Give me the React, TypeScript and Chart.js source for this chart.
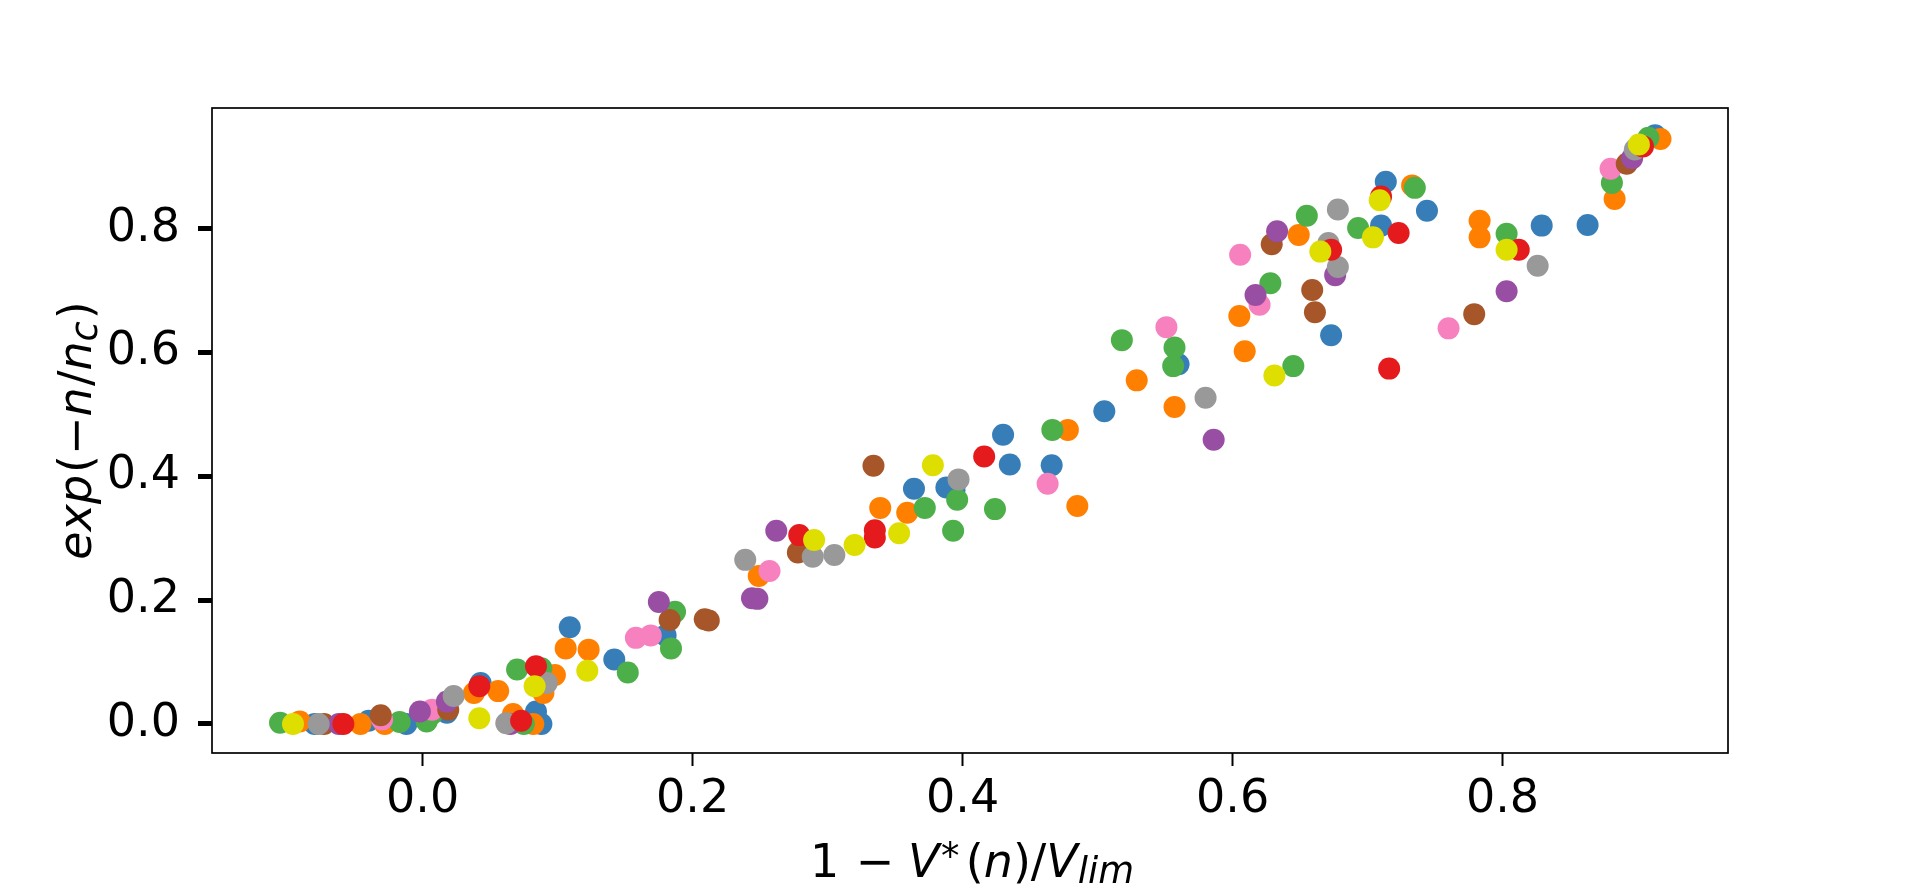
import { useEffect, useRef } from "react";
import { Chart, ScatterController, PointElement, LinearScale } from "chart.js";

Chart.register(ScatterController, PointElement, LinearScale);

type Pt = [number, number];

// one list per marker colour
const bluePts: Pt[] = [
  [-0.08, 0], [-0.04, 0.005], [-0.012, 0], [0.018, 0.018], [0.043, 0.066],
  [0.088, 0], [0.084, 0.02], [0.109, 0.156], [0.142, 0.104], [0.18, 0.143],
  [0.364, 0.38], [0.388, 0.382], [0.394, 0.378], [0.43, 0.467], [0.435, 0.419],
  [0.466, 0.418], [0.505, 0.505], [0.56, 0.581], [0.673, 0.628], [0.71, 0.805],
  [0.7135, 0.876], [0.744, 0.829], [0.829, 0.805], [0.863, 0.806], [0.913, 0.951],
];
const orangePts: Pt[] = [
  [-0.091, 0.004], [-0.046, 0], [-0.028, 0], [0.038, 0.05], [0.056, 0.053],
  [0.067, 0.016], [0.082, 0], [0.0895, 0.05], [0.098, 0.079], [0.106, 0.122],
  [0.123, 0.12], [0.249, 0.239], [0.339, 0.349], [0.359, 0.341], [0.478, 0.475],
  [0.485, 0.352], [0.529, 0.555], [0.557, 0.512], [0.605, 0.659], [0.609, 0.602],
  [0.649, 0.79], [0.733, 0.87], [0.783, 0.813], [0.783, 0.786], [0.883, 0.848],
  [0.917, 0.945],
];
const greenPts: Pt[] = [
  [-0.1056, 0.002], [-0.017, 0.003], [0.003, 0.004], [0.007, 0.016], [0.07, 0.088],
  [0.075, 0], [0.088, 0.09], [0.152, 0.083], [0.184, 0.122], [0.187, 0.181],
  [0.372, 0.349], [0.393, 0.312], [0.396, 0.362], [0.424, 0.347], [0.4665, 0.475],
  [0.518, 0.62], [0.556, 0.578], [0.557, 0.608], [0.628, 0.712], [0.645, 0.578],
  [0.655, 0.821], [0.693, 0.801], [0.735, 0.866], [0.803, 0.792], [0.881, 0.874],
  [0.908, 0.947],
];
const pinkPts: Pt[] = [
  [-0.03, 0.007], [0.007, 0.023], [0.158, 0.139], [0.169, 0.143], [0.257, 0.247],
  [0.463, 0.388], [0.551, 0.641], [0.6056, 0.758], [0.62, 0.677], [0.76, 0.639],
  [0.88, 0.897],
];
const brownPts: Pt[] = [
  [-0.073, 0], [-0.031, 0.014], [0.019, 0.023], [0.183, 0.168], [0.209, 0.169],
  [0.212, 0.167], [0.278, 0.277], [0.334, 0.417], [0.629, 0.775], [0.659, 0.701],
  [0.661, 0.665], [0.779, 0.662], [0.892, 0.905],
];
const purplePts: Pt[] = [
  [-0.062, 0], [-0.002, 0.02], [0.018, 0.036], [0.065, 0], [0.175, 0.197],
  [0.244, 0.203], [0.248, 0.202], [0.262, 0.312], [0.586, 0.459], [0.617, 0.693],
  [0.633, 0.796], [0.676, 0.725], [0.803, 0.699], [0.896, 0.914],
];
const greyPts: Pt[] = [
  [-0.077, 0], [0.023, 0.045], [0.062, 0.001], [0.092, 0.066], [0.239, 0.265],
  [0.289, 0.27], [0.305, 0.273], [0.397, 0.395], [0.58, 0.527], [0.671, 0.777],
  [0.678, 0.831], [0.678, 0.738], [0.826, 0.74], [0.898, 0.928],
];
const redPts: Pt[] = [
  [-0.0587, 0], [0.042, 0.061], [0.073, 0.005], [0.084, 0.093], [0.279, 0.305],
  [0.335, 0.301], [0.335, 0.313], [0.416, 0.432], [0.673, 0.766], [0.71, 0.852],
  [0.716, 0.574], [0.723, 0.793], [0.812, 0.766], [0.904, 0.933],
];
const yellowPts: Pt[] = [
  [-0.096, 0], [0.042, 0.009], [0.083, 0.061], [0.122, 0.086], [0.29, 0.297],
  [0.32, 0.289], [0.353, 0.308], [0.378, 0.418], [0.631, 0.563], [0.665, 0.763],
  [0.704, 0.786], [0.709, 0.846], [0.803, 0.766], [0.901, 0.936],
];

const xTickValues = [0, 0.2, 0.4, 0.6, 0.8];
const yTickValues = [0, 0.2, 0.4, 0.6, 0.8];

// plotting order: later entries end up on top
const series = [
  { color: "#377eb8", pts: bluePts },
  { color: "#ff7f00", pts: orangePts },
  { color: "#4daf4a", pts: greenPts },
  { color: "#f781bf", pts: pinkPts },
  { color: "#a65628", pts: brownPts },
  { color: "#984ea3", pts: purplePts },
  { color: "#999999", pts: greyPts },
  { color: "#e41a1c", pts: redPts },
  { color: "#dede00", pts: yellowPts },
];

const FONT = '"DejaVu Sans", sans-serif';
const FS = 46;

// mathtext-ish label pieces
type Seg = { t: string; it?: boolean; sc?: number; dy?: number; pre?: number };

const xLabel: Seg[] = [
  { t: "1" },
  { t: "\u2212", pre: 0.36 },
  { t: "V", it: true, pre: 0.3 },
  { t: "*", sc: 0.8, dy: -0.18, pre: 0.03 },
  { t: "(", pre: 0.14 },
  { t: "n", it: true },
  { t: ")" },
  { t: "/" },
  { t: "V", it: true },
  { t: "lim", it: true, sc: 0.8, dy: 0.14 },
];

const yLabel: Seg[] = [
  { t: "exp", it: true },
  { t: "(", pre: 0.04 },
  { t: "\u2212" },
  { t: "n", it: true },
  { t: "/", pre: 0.03 },
  { t: "n", it: true },
  { t: "c", it: true, sc: 0.8, dy: 0.14 },
  { t: ")", pre: 0.04 },
];

function segFont(s: Seg) {
  return `${s.it ? "italic " : ""}${FS * (s.sc ?? 1)}px ${FONT}`;
}

function drawRich(ctx: CanvasRenderingContext2D, segs: Seg[], cx: number, base: number) {
  let total = 0;
  const widths = segs.map((s) => {
    ctx.font = segFont(s);
    const w = ctx.measureText(s.t).width + (s.pre ?? 0) * FS;
    total += w;
    return w;
  });
  let x = cx - total / 2;
  ctx.textAlign = "left";
  ctx.textBaseline = "alphabetic";
  ctx.fillStyle = "#000";
  segs.forEach((s, i) => {
    ctx.font = segFont(s);
    ctx.fillText(s.t, x + (s.pre ?? 0) * FS, base + (s.dy ?? 0) * FS);
    x += widths[i];
  });
}

const framePlugin = {
  id: "frameAndTitles",
  afterDraw(chart: Chart) {
    const { ctx, chartArea } = chart;
    const { left, right, top, bottom } = chartArea;
    ctx.save();
    ctx.strokeStyle = "#000";
    ctx.lineWidth = 1.7;
    ctx.strokeRect(left, top, right - left, bottom - top);

    drawRich(ctx, xLabel, 972, 877);

    ctx.translate(91, (top + bottom) / 2);
    ctx.rotate(-Math.PI / 2);
    drawRich(ctx, yLabel, 0, 0);
    ctx.restore();
  },
};

export default function App() {
  const canvasRef = useRef<HTMLCanvasElement | null>(null);

  useEffect(() => {
    if (!canvasRef.current) return;

    const chart = new Chart(canvasRef.current, {
      type: "scatter",
      data: {
        datasets: series.map((s, i) => ({
          data: s.pts.map(([x, y]) => ({ x, y })),
          backgroundColor: s.color,
          borderWidth: 0,
          pointRadius: 11,
          order: series.length - i,
        })),
      },
      options: {
        responsive: false,
        animation: false,
        events: [],
        layout: { padding: { top: 108, right: 192, left: 0, bottom: 0 } },
        plugins: { legend: { display: false }, tooltip: { enabled: false } },
        scales: {
          x: {
            type: "linear",
            min: -0.156,
            max: 0.967,
            afterFit: (scale: any) => {
              scale.height = 143;
            },
            afterBuildTicks: (scale: any) => {
              scale.ticks = xTickValues.map((value) => ({ value }));
            },
            border: { display: false },
            grid: {
              drawOnChartArea: false,
              drawTicks: true,
              tickLength: 13,
              tickWidth: 2,
              tickColor: "#000",
            },
            ticks: {
              padding: 6,
              color: "#000",
              font: { family: FONT, size: FS },
              maxRotation: 0,
              callback: (v: any) => Number(v).toFixed(1),
            },
          },
          y: {
            type: "linear",
            min: -0.047,
            max: 0.995,
            afterFit: (scale: any) => {
              scale.width = 212;
            },
            afterBuildTicks: (scale: any) => {
              scale.ticks = yTickValues.map((value) => ({ value }));
            },
            border: { display: false },
            grid: {
              drawOnChartArea: false,
              drawTicks: true,
              tickLength: 14,
              tickWidth: 5,
              tickColor: "#000",
            },
            ticks: {
              padding: 18,
              color: "#000",
              font: { family: FONT, size: FS },
              callback: (v: any) => Number(v).toFixed(1),
            },
          },
        },
      },
      plugins: [framePlugin],
    });

    return () => {
      chart.destroy();
    };
  }, []);

  return (
    <div style={{ position: "absolute", left: 0, top: 0, width: 1920, height: 896, background: "#fff" }}>
      <canvas ref={canvasRef} width={1920} height={896} style={{ width: 1920, height: 896 }} />
    </div>
  );
}
